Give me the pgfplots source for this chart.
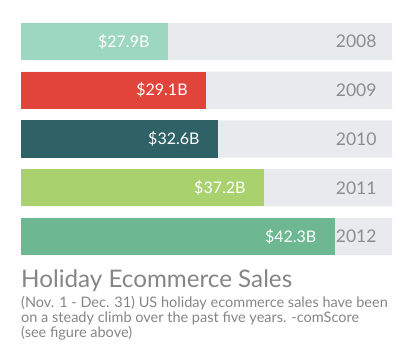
\documentclass[border=0pt]{standalone}
\usepackage{pgfplots}
\pgfplotsset{compat=1.18}
\usepackage{fontspec}
\setmainfont{Lato}
\definecolor{bggray}{HTML}{E8EAED}
\definecolor{yeargray}{HTML}{8A8D91}
\definecolor{c08}{HTML}{9DD6C1}
\definecolor{c09}{HTML}{E0443A}
\definecolor{c10}{HTML}{2E6267}
\definecolor{c11}{HTML}{A9D26F}
\definecolor{c12}{HTML}{6DB793}
\definecolor{titlegray}{HTML}{858585}
\begin{document}
\begin{tikzpicture}[x=1pt,y=1pt]
\useasboundingbox (0,0) rectangle (415,-360);
\begin{axis}[
  at={(21pt,-23pt)}, anchor=north west,
  scale only axis, width=371pt, height=232pt,
  hide axis, clip=false,
  xmin=0, xmax=100,
  ymin=-0.38, ymax=4.38, y dir=reverse,
  xbar, bar shift=0pt, bar width=0.76,
  point meta=explicit symbolic,
  every node near coord/.append style={anchor=east},
]
% background tracks with year labels
\addplot[fill=bggray, draw=none,
  nodes near coords={\pgfplotspointmeta},
  every node near coord/.append style={xshift=-12pt, text=yeargray, font=\fontsize{17.5}{20}\selectfont}]
  coordinates {(100,0)[2008] (100,1)[2009] (100,2)[2010] (100,3)[2011] (100,4)[2012]};
% bars: length as drawn (percent of track), label = sales in billion USD
\pgfplotsset{valbar/.style={draw=none, nodes near coords={\$\pgfplotspointmeta B},
  every node near coord/.append style={xshift=-15pt, text=white, font=\fontsize{16}{19}\selectfont}}}
\addplot[valbar, fill=c08] coordinates {(39.6,0)[27.9]};
\addplot[valbar, fill=c09] coordinates {(49.9,1)[29.1]};
\addplot[valbar, fill=c10] coordinates {(53.1,2)[32.6]};
\addplot[valbar, fill=c11] coordinates {(65.5,3)[37.2]};
\addplot[valbar, fill=c12] coordinates {(84.6,4)[42.3]};
\end{axis}
\node[anchor=base west, inner sep=0, text=titlegray, font=\fontsize{24.2}{27}\selectfont] at (21,-287) {Holiday Ecommerce Sales};
\begin{scope}[every node/.style={anchor=base west, inner sep=0, text=titlegray, font=\fontsize{14.5}{16}\selectfont}]
\node at (21,-307.5) {(Nov. 1 - Dec. 31) US holiday ecommerce sales have been};
\node at (21,-322.5) {on a steady climb over the past five years. -comScore};
\node at (21,-337) {(see figure above)};
\end{scope}
\end{tikzpicture}
\end{document}
